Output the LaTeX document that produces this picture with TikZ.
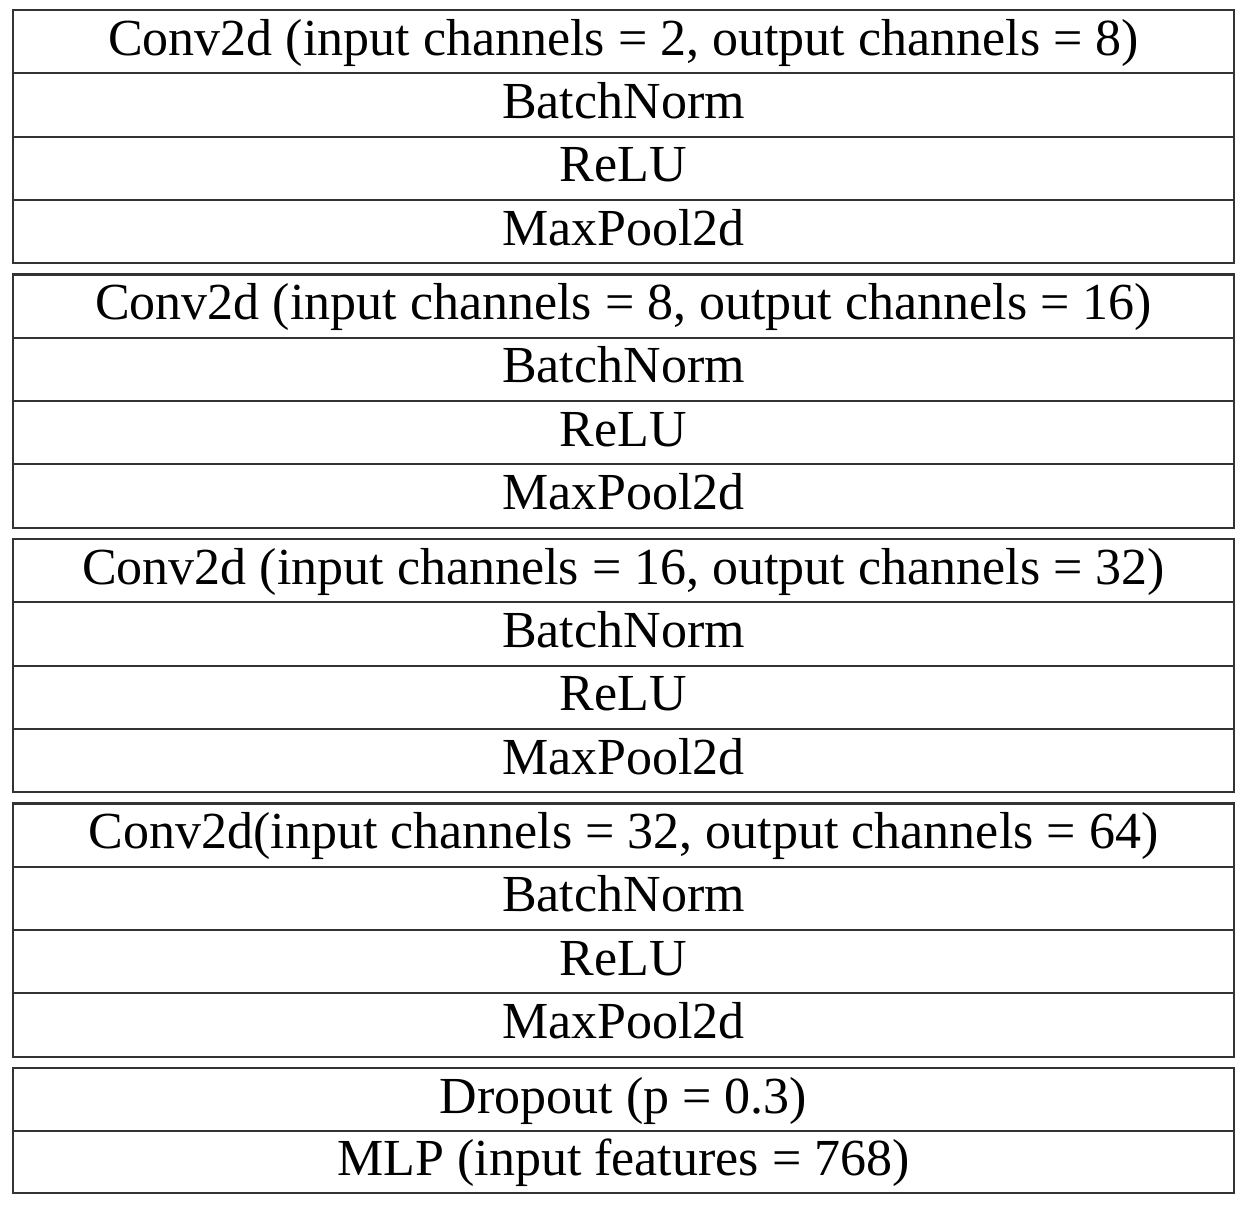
\documentclass[tikz,border=0pt]{standalone}
\usepackage{fontspec}
\setmainfont{Liberation Serif}
\begin{document}
\begin{tikzpicture}[x=1pt,y=-1pt,
  layer/.style={draw=black!80, line width=2pt, minimum width=1221pt, minimum height=63.3pt,
    inner sep=0pt, outer sep=0pt, anchor=north west, text height=40pt, text depth=13pt,
    font=\fontsize{52}{60}\selectfont},
  groupbox/.style={draw=black!80, line width=2.4pt}]
\useasboundingbox (0,0) rectangle (1244,1204);
\fill[white] (0,0) rectangle (1244,1204);
% four convolution blocks
\foreach \g/\lbl in {0/{Conv2d (input channels = 2, output channels = 8)},
                     1/{Conv2d (input channels = 8, output channels = 16)},
                     2/{Conv2d (input channels = 16, output channels = 32)},
                     3/{Conv2d(input channels = 32, output channels = 64)}}{
  \pgfmathsetmacro{\top}{10+264.5*\g}
  \node[layer] (conv\g) at (13,\top) {\lbl};
  \node[layer] (bn\g) at (conv\g.south west) {BatchNorm};
  \node[layer] (relu\g) at (bn\g.south west) {ReLU};
  \node[layer] (pool\g) at (relu\g.south west) {MaxPool2d};
  \draw[groupbox] (conv\g.north west) rectangle (pool\g.south east);
}
% classifier head
\node[layer, minimum height=63pt] (drop) at (13,1068) {Dropout (p = 0.3)};
\node[layer, minimum height=62pt] (mlp) at (drop.south west) {MLP (input features = 768)};
\draw[groupbox] (drop.north west) rectangle (mlp.south east);
\end{tikzpicture}
\end{document}
